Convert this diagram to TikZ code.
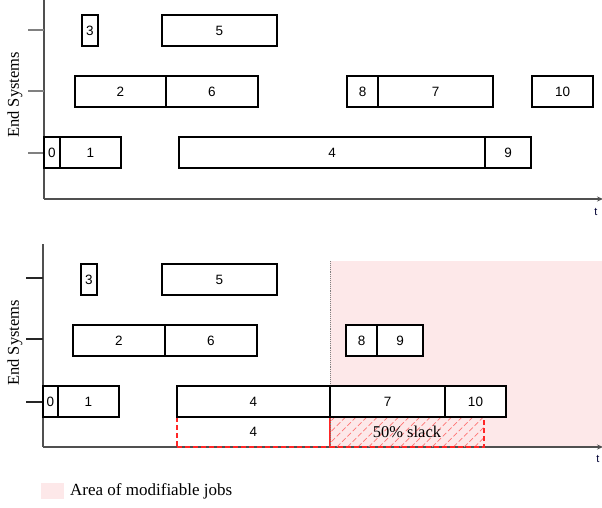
\documentclass[tikz,border=0pt]{standalone}
\usepackage{fontspec}
\setmainfont{Liberation Serif}
\setsansfont{Liberation Sans}
\usetikzlibrary{patterns.meta,arrows.meta}
\definecolor{modpink}{RGB}{253,232,233}
\definecolor{axisgray}{RGB}{80,80,80}
\tikzset{
  job/.style={draw=black, line width=1.2pt, fill=white, inner sep=0pt, minimum height=31pt, font=\sffamily\fontsize{13.5}{13.5}\selectfont},
  ghost/.style={draw=red!85, dash pattern=on 5pt off 3pt, line width=1.1pt, inner sep=0pt, minimum height=30pt},
  axisline/.style={draw=axisgray, line width=1.1pt},
  tickline/.style={draw=gray, line width=1.1pt},
  axarrow/.style={axisline, -{Stealth[length=6pt,width=5pt]}},
  ylab/.style={rotate=90, font=\fontsize{16.5}{16.5}\selectfont},
  tlab/.style={font=\sffamily\fontsize{11}{11}\selectfont, text=black!80!blue}
}
\begin{document}
\begin{tikzpicture}[x=1pt,y=-1pt]
\useasboundingbox (0,0) rectangle (602,508);
% ---------- top panel ----------
\coordinate (ty0) at (44,0);
\coordinate (torig) at (44,199);
\coordinate (tend) at (603,199);
\draw[axisline] (ty0) -- (torig);
\draw[axarrow] (torig) -- (tend);
\coordinate (tk1a) at (28,30);  \coordinate (tk1b) at (44,30);
\coordinate (tk2a) at (28,91);  \coordinate (tk2b) at (44,91);
\coordinate (tk3a) at (28,153); \coordinate (tk3b) at (44,153);
\draw[tickline] (tk1a) -- (tk1b);
\draw[tickline] (tk2a) -- (tk2b);
\draw[tickline] (tk3a) -- (tk3b);
\node[tlab] (tt) at (596,212) {t};
\node[ylab] (tys) at (15,95) {End Systems};
\node[job, minimum width=16pt]  (j3)  at (90,30.5)   {3};
\node[job, minimum width=115pt] (j5)  at (219.5,30.5) {5};
\node[job, minimum width=91pt]  (j2)  at (120.5,91.5) {2};
\node[job, minimum width=92pt]  (j6)  at (212,91.5)  {6};
\node[job, minimum width=31pt]  (j8)  at (362.5,91.5) {8};
\node[job, minimum width=115pt] (j7)  at (435.5,91.5) {7};
\node[job, minimum width=61pt]  (j10) at (562.5,91.5) {10};
\node[job, minimum width=16pt]  (j0)  at (52,152.5)  {0};
\node[job, minimum width=61pt]  (j1)  at (90.5,152.5) {1};
\node[job, minimum width=306pt] (j4)  at (332,152.5) {4};
\node[job, minimum width=46pt]  (j9)  at (508,152.5) {9};
% ---------- bottom panel ----------
\fill[modpink] (330,261) rectangle (602,447);
\coordinate (by0) at (43,244);
\coordinate (borig) at (43,447);
\coordinate (bend) at (603,447);
\draw[axisline] (by0) -- (borig);
\draw[axarrow] (borig) -- (bend);
\coordinate (bk1a) at (26,278);  \coordinate (bk1b) at (43,278);
\coordinate (bk2a) at (26,339);  \coordinate (bk2b) at (43,339);
\coordinate (bk3a) at (26,402);  \coordinate (bk3b) at (43,402);
\draw[tickline, draw=black!85] (bk1a) -- (bk1b);
\draw[tickline, draw=black!85] (bk2a) -- (bk2b);
\draw[tickline, draw=black!85] (bk3a) -- (bk3b);
\node[ghost, minimum width=153pt, font=\sffamily\fontsize{13.5}{13.5}\selectfont] (g4) at (253.5,432) {4};
\node[ghost, minimum width=154pt, pattern={Lines[angle=45,distance=7.5pt,line width=0.7pt]}, pattern color=red!55] (slack) at (407,432) {};
\node[font=\fontsize{16.5}{16.5}\selectfont, inner sep=0pt] (slacktxt) at (slack.center) {50\% slack};
\coordinate (dvt) at (330,261);
\coordinate (dvb) at (330,447);
\draw[gray, densely dotted, line width=0.9pt] (dvt) -- (dvb);
\node[tlab] (bt) at (598,459) {t};
\node[ylab] (bys) at (15,343) {End Systems};
\node[job, minimum width=16pt]  (b3)  at (89,279.5)  {3};
\node[job, minimum width=115pt] (b5)  at (219.5,279.5) {5};
\node[job, minimum width=92pt]  (b2)  at (119,340.5)  {2};
\node[job, minimum width=92pt]  (b6)  at (211,340.5)  {6};
\node[job, minimum width=31pt]  (b8)  at (361.5,340.5) {8};
\node[job, minimum width=46pt]  (b9)  at (400,340.5)  {9};
\node[job, minimum width=15pt]  (b0)  at (50.5,401.5) {0};
\node[job, minimum width=61pt]  (b1)  at (88.5,401.5) {1};
\node[job, minimum width=153pt] (b4)  at (253.5,401.5) {4};
\node[job, minimum width=115pt] (b7)  at (387.5,401.5) {7};
\node[job, minimum width=61pt]  (b10) at (475.5,401.5) {10};
% ---------- legend ----------
\fill[modpink] (41,483) rectangle (64,499);
\node[anchor=west, font=\fontsize{17}{17}\selectfont, inner sep=0pt] (leg) at (70,491) {Area of modifiable jobs};
\end{tikzpicture}
\end{document}
